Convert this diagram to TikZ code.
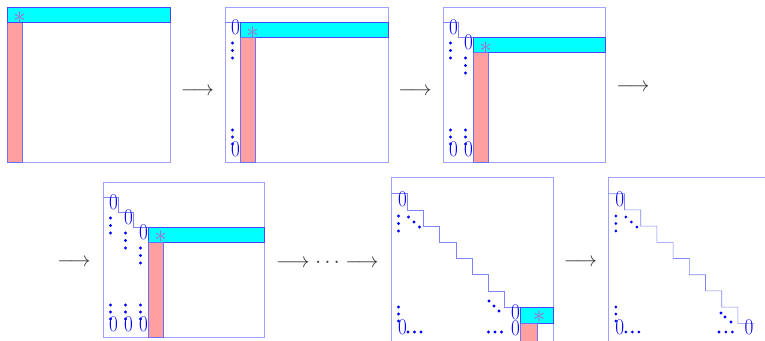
\documentclass[tikz,border=0pt]{standalone}
\usepackage{amsmath,amssymb}
\usepackage{graphicx}
\usepackage{tikz}
\definecolor{framecol}{RGB}{160,160,255}
\definecolor{barfill}{RGB}{0,255,255}
\definecolor{bardraw}{RGB}{70,70,255}
\definecolor{coldraw}{RGB}{110,110,255}
\definecolor{stairdraw}{RGB}{130,130,255}
\definecolor{pinkfill}{RGB}{255,160,160}
\definecolor{pivotcol}{RGB}{175,105,200}

\begin{document}
\begin{tikzpicture}[x=1pt,y=-1pt,
	matframe/.style={draw=framecol,line width=0.7pt},
	rowbar/.style={fill=barfill,draw=bardraw,line width=0.6pt},
	colbar/.style={fill=pinkfill,draw=coldraw,line width=0.6pt},
	stair/.style={draw=stairdraw,line width=0.6pt},
	zeroent/.style={text=blue,inner sep=0pt,font=\fontsize{22.5}{22.5}\selectfont},
	pivot/.style={text=pivotcol,inner sep=0pt,font=\fontsize{23}{23}\selectfont},
	arrowtxt/.style={text=black!80,inner sep=0pt,font=\fontsize{20.5}{20.5}\selectfont}]
	\useasboundingbox (0,0) rectangle (765,340);
	% first stage
	\draw[matframe] (7,7) rectangle (170,162);
	\draw[colbar] (7,22) rectangle (22,162);
	\draw[rowbar] (7,7) rectangle (170,22);
	\node at (19.5,18) [pivot] (p1) {$*$};
	\node at (197.5,92) [arrowtxt] (a1) {$\longrightarrow$};
	% second stage
	\begin{scope}[shift={(225,7)}]
		\draw[matframe] (0,0) rectangle (163,155);
		\draw[stair] (0,15) \foreach \j in {1} { -- (15*\j,15*\j) -- (15*\j,15*\j+15) };
		\draw[rowbar] (15,15) rectangle (163,30);
		\draw[colbar] (15,30) rectangle (30,155);
		\foreach \j in {0} {
			\node at ({15*\j+10.5},{15*\j+20.5}) [zeroent] (bz\j) {\scalebox{0.85}[1]{0}};
			\node at ({15*\j+10.5},142.5) [zeroent] (bb\j) {\scalebox{0.85}[1]{0}};
			\foreach \d in {0,7.5,15} \fill[blue] ({15*\j+7.5},{15*\j+36+\d}) circle (1.55);
			\foreach \d in {0,7,14} \fill[blue] ({15*\j+7.5},{123+\d}) circle (1.55);
		}
		\node at (27.5,25.5) [pivot] (p2) {$*$};
	\end{scope}
	\node at (415,92) [arrowtxt] (a2) {$\longrightarrow$};
	% third stage
	\begin{scope}[shift={(443,7)}]
		\draw[matframe] (0,0) rectangle (162,155);
		\draw[stair] (0,15) \foreach \j in {1,2} { -- (15*\j,15*\j) -- (15*\j,15*\j+15) };
		\draw[rowbar] (30,30) rectangle (162,45);
		\draw[colbar] (30,45) rectangle (45,155);
		\foreach \j in {0,1} {
			\node at ({15*\j+10.5},{15*\j+20.5}) [zeroent] (cz\j) {\scalebox{0.85}[1]{0}};
			\node at ({15*\j+10.5},142.5) [zeroent] (cb\j) {\scalebox{0.85}[1]{0}};
			\foreach \d in {0,7.5,15} \fill[blue] ({15*\j+7.5},{15*\j+36+\d}) circle (1.55);
			\foreach \d in {0,7,14} \fill[blue] ({15*\j+7.5},{123+\d}) circle (1.55);
		}
		\node at (42.5,40.5) [pivot] (p3) {$*$};
	\end{scope}
	\node at (633,88) [arrowtxt] (a3) {$\longrightarrow$};
	% fourth stage
	\node at (74,262.5) [arrowtxt] (a4) {$\longrightarrow$};
	\begin{scope}[shift={(103,182)}]
		\draw[matframe] (0,0) rectangle (161,155);
		\draw[stair] (0,15) \foreach \j in {1,2,3} { -- (15*\j,15*\j) -- (15*\j,15*\j+15) };
		\draw[rowbar] (45,45) rectangle (161,60);
		\draw[colbar] (45,60) rectangle (60,155);
		\foreach \j in {0,1,2} {
			\node at ({15*\j+10.5},{15*\j+20.5}) [zeroent] (dz\j) {\scalebox{0.85}[1]{0}};
			\node at ({15*\j+10.5},142.5) [zeroent] (db\j) {\scalebox{0.85}[1]{0}};
			\foreach \d in {0,7.5,15} \fill[blue] ({15*\j+7.5},{15*\j+36+\d}) circle (1.55);
			\foreach \d in {0,7,14} \fill[blue] ({15*\j+7.5},{123+\d}) circle (1.55);
		}
		\node at (57.5,55) [pivot] (p4) {$*$};
	\end{scope}
	\node at (327.5,263) [arrowtxt] (a5) {$\longrightarrow\cdots\longrightarrow$};
	% stage before the last
	\begin{scope}[shift={(391,177.5)}]
		\draw[matframe] (0,0) rectangle (162,164);
		\draw[stair] (0,16.2) \foreach \j in {1,...,8} { -- (16.2*\j,16.2*\j) -- (16.2*\j,16.2*\j+16.2) };
		\draw[rowbar] (129.6,129.6) rectangle (162,145.8);
		\draw[colbar] (129.6,145.8) rectangle (145.8,164);
		\node at (11.4,21.7) [zeroent] (ez0) {\scalebox{0.85}[1]{0}};
		\node at (11.4,149.5) [zeroent] (eb0) {\scalebox{0.85}[1]{0}};
		\node at (124.6,134.3) [zeroent] (ez8) {\scalebox{0.85}[1]{0}};
		\node at (124.6,151.2) [zeroent] (eb8) {\scalebox{0.85}[1]{0}};
		\foreach \p in {(7.5,38.5),(7.5,46),(7.5,53.5),(17.5,39.5),(23,44.5),(28.5,49.5),
			(7.5,129.5),(7.5,136.5),(7.5,143.5),(17,154.5),(23.5,154.5),(30,154.5),
			(98,123.5),(103,128.5),(108,133.5),(97.5,154.5),(104,154.5),(110.5,154.5)}
			\fill[blue] \p circle (1.55);
		\node at (148,139) [pivot] (p5) {$*$};
	\end{scope}
	\node at (580.5,263) [arrowtxt] (a6) {$\longrightarrow$};
	% last stage
	\begin{scope}[shift={(608.3,177.5)}]
		\draw[matframe] (0,0) rectangle (162,164);
		\draw[stair] (0,16.2) \foreach \j in {1,...,8} { -- (16.2*\j,16.2*\j) -- (16.2*\j,16.2*\j+16.2) } -- (145.8,145.8);
		\node at (11.4,21.7) [zeroent] (fz0) {\scalebox{0.85}[1]{0}};
		\node at (11.4,149.5) [zeroent] (fb0) {\scalebox{0.85}[1]{0}};
		\node at (140.8,149.5) [zeroent] (fb9) {\scalebox{0.85}[1]{0}};
		\foreach \p in {(7.5,38.5),(7.5,46),(7.5,53.5),(17.5,39.5),(23,44.5),(28.5,49.5),
			(7.5,129.5),(7.5,136.5),(7.5,143.5),(17.5,154.5),(24,154.5),(30.5,154.5),
			(112.7,135.5),(116.7,139.5),(122.7,144.5),(110.7,154.5),(117.5,154.5),(124,154.5)}
			\fill[blue] \p circle (1.55);
	\end{scope}
\end{tikzpicture}
\end{document}
